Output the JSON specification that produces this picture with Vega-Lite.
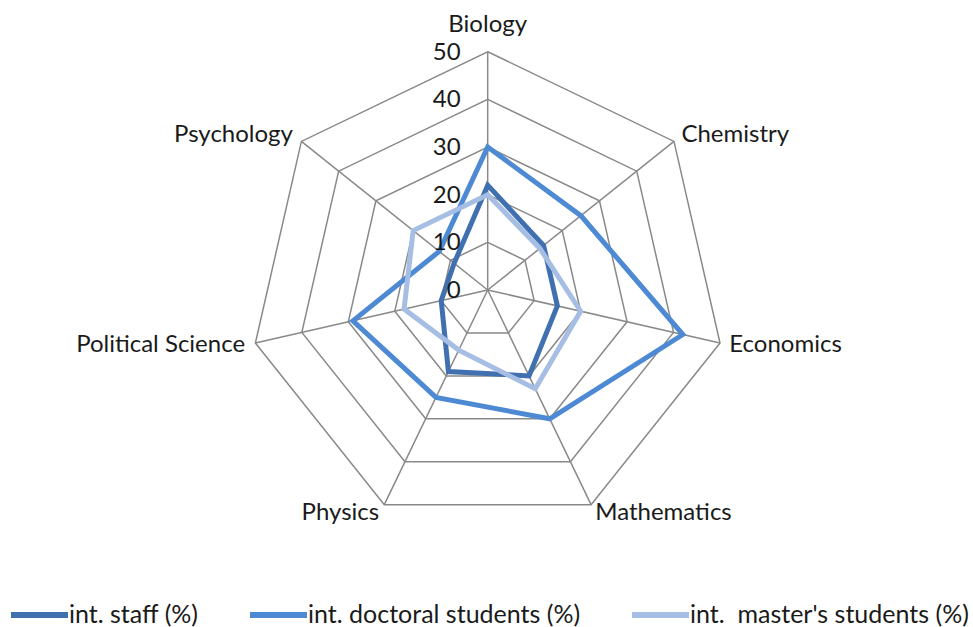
{
  "$schema": "https://vega.github.io/schema/vega-lite/v6.json",
  "width": 973,
  "height": 627,
  "autosize": {"type": "none"},
  "padding": 0,
  "background": "white",
  "config": {"view": {"stroke": null}, "font": "Lato", "text": {"font": "Lato"}},
  "datasets": {
    "scores": [
      {"category": "Biology", "series": "int. staff (%)", "value": 22},
      {"category": "Chemistry", "series": "int. staff (%)", "value": 15},
      {"category": "Economics", "series": "int. staff (%)", "value": 15},
      {"category": "Mathematics", "series": "int. staff (%)", "value": 20},
      {"category": "Physics", "series": "int. staff (%)", "value": 19},
      {"category": "Political Science", "series": "int. staff (%)", "value": 10},
      {"category": "Psychology", "series": "int. staff (%)", "value": 9},
      {"category": "Biology", "series": "int. doctoral students (%)", "value": 30},
      {"category": "Chemistry", "series": "int. doctoral students (%)", "value": 25},
      {"category": "Economics", "series": "int. doctoral students (%)", "value": 42},
      {"category": "Mathematics", "series": "int. doctoral students (%)", "value": 30},
      {"category": "Physics", "series": "int. doctoral students (%)", "value": 25},
      {"category": "Political Science", "series": "int. doctoral students (%)", "value": 29},
      {"category": "Psychology", "series": "int. doctoral students (%)", "value": 13},
      {"category": "Biology", "series": "int.\u00a0 master's students (%)", "value": 20},
      {"category": "Chemistry", "series": "int.\u00a0 master's students (%)", "value": 14},
      {"category": "Economics", "series": "int.\u00a0 master's students (%)", "value": 20},
      {"category": "Mathematics", "series": "int.\u00a0 master's students (%)", "value": 23},
      {"category": "Physics", "series": "int.\u00a0 master's students (%)", "value": 14},
      {"category": "Political Science", "series": "int.\u00a0 master's students (%)", "value": 18},
      {"category": "Psychology", "series": "int.\u00a0 master's students (%)", "value": 20}
    ],
    "grid": [
      {"category": "Biology", "level": [10, 20, 30, 40, 50]},
      {"category": "Chemistry", "level": [10, 20, 30, 40, 50]},
      {"category": "Economics", "level": [10, 20, 30, 40, 50]},
      {"category": "Mathematics", "level": [10, 20, 30, 40, 50]},
      {"category": "Physics", "level": [10, 20, 30, 40, 50]},
      {"category": "Political Science", "level": [10, 20, 30, 40, 50]},
      {"category": "Psychology", "level": [10, 20, 30, 40, 50]}
    ],
    "ticks": [{"tick": 0}, {"tick": 10}, {"tick": 20}, {"tick": 30}, {"tick": 40}, {"tick": 50}]
  },
  "layer": [
    {
      "data": {"name": "grid"},
      "transform": [
        {"flatten": ["level"]},
        {"calculate": "indexof(['Biology','Chemistry','Economics','Mathematics','Physics','Political Science','Psychology'], datum.category)", "as": "idx"},
        {"calculate": "datum.level*sin(datum.idx*2*PI/7)", "as": "px"},
        {"calculate": "datum.level*cos(datum.idx*2*PI/7)", "as": "py"}
      ],
      "mark": {"type": "line", "interpolate": "linear-closed", "stroke": "#898989", "strokeWidth": 1.5},
      "encoding": {
        "x": {"field": "px", "type": "quantitative", "scale": {"domain": [-102.33, 101.83], "nice": false, "zero": false}, "axis": null},
        "y": {"field": "py", "type": "quantitative", "scale": {"domain": [-70.71, 60.85], "nice": false, "zero": false}, "axis": null},
        "detail": {"field": "level"},
        "order": {"field": "idx"}
      }
    },
    {
      "data": {"name": "grid"},
      "transform": [
        {"flatten": ["level"]},
        {"filter": "datum.level == 50"},
        {"calculate": "indexof(['Biology','Chemistry','Economics','Mathematics','Physics','Political Science','Psychology'], datum.category)", "as": "idx"},
        {"calculate": "datum.level*sin(datum.idx*2*PI/7)", "as": "px"},
        {"calculate": "datum.level*cos(datum.idx*2*PI/7)", "as": "py"}
      ],
      "mark": {"type": "rule", "stroke": "#898989", "strokeWidth": 1.5},
      "encoding": {
        "x": {"field": "px", "type": "quantitative"},
        "y": {"field": "py", "type": "quantitative"},
        "x2": {"datum": 0},
        "y2": {"datum": 0}
      }
    },
    {
      "data": {"name": "scores"},
      "transform": [
        {"calculate": "indexof(['Biology','Chemistry','Economics','Mathematics','Physics','Political Science','Psychology'], datum.category)", "as": "idx"},
        {"calculate": "datum.value*sin(datum.idx*2*PI/7)", "as": "px"},
        {"calculate": "datum.value*cos(datum.idx*2*PI/7)", "as": "py"}
      ],
      "mark": {"type": "line", "interpolate": "linear-closed", "strokeWidth": 5, "strokeJoin": "miter"},
      "encoding": {
        "x": {"field": "px", "type": "quantitative"},
        "y": {"field": "py", "type": "quantitative"},
        "order": {"field": "idx"},
        "color": {
          "field": "series",
          "type": "nominal",
          "scale": {"domain": ["int. staff (%)", "int. doctoral students (%)", "int.\u00a0 master's students (%)"], "range": ["#4170B0", "#4E8AD4", "#A6BDE4"]},
          "legend": {
            "title": null,
            "orient": "none",
            "legendX": 8,
            "legendY": 600,
            "direction": "horizontal",
            "symbolType": "stroke",
            "symbolSize": 3249,
            "symbolStrokeWidth": 6,
            "labelFont": "Lato",
            "labelFontSize": 25,
            "labelColor": "#1a1a1a",
            "labelOffset": -2,
            "columnPadding": 48,
            "clipHeight": 30,
            "labelLimit": 400
          }
        }
      }
    },
    {
      "data": {"name": "ticks"},
      "mark": {"type": "text", "align": "right", "baseline": "middle", "dx": -27, "dy": 1, "fontSize": 24, "color": "#1a1a1a"},
      "encoding": {
        "x": {"datum": 0, "type": "quantitative"},
        "y": {"field": "tick", "type": "quantitative"},
        "text": {"field": "tick", "type": "quantitative"}
      }
    },
    {
      "data": {"name": "grid"},
      "transform": [
        {"filter": "datum.category == 'Biology'"},
        {"calculate": "52*sin(0)", "as": "px"},
        {"calculate": "52*cos(0)", "as": "py"}
      ],
      "mark": {"type": "text", "align": "center", "baseline": "alphabetic", "dy": -10, "fontSize": 24, "color": "#1a1a1a"},
      "encoding": {
        "x": {"field": "px", "type": "quantitative"},
        "y": {"field": "py", "type": "quantitative"},
        "text": {"field": "category"}
      }
    },
    {
      "data": {"name": "grid"},
      "transform": [
        {"calculate": "indexof(['Biology','Chemistry','Economics','Mathematics','Physics','Political Science','Psychology'], datum.category)", "as": "idx"},
        {"filter": "datum.idx >= 1 && datum.idx <= 3"},
        {"calculate": "52*sin(datum.idx*2*PI/7)", "as": "px"},
        {"calculate": "52*cos(datum.idx*2*PI/7)", "as": "py"}
      ],
      "mark": {"type": "text", "align": "left", "baseline": "middle", "dx": 0, "fontSize": 24, "color": "#1a1a1a"},
      "encoding": {
        "x": {"field": "px", "type": "quantitative"},
        "y": {"field": "py", "type": "quantitative"},
        "text": {"field": "category"}
      }
    },
    {
      "data": {"name": "grid"},
      "transform": [
        {"calculate": "indexof(['Biology','Chemistry','Economics','Mathematics','Physics','Political Science','Psychology'], datum.category)", "as": "idx"},
        {"filter": "datum.idx >= 4"},
        {"calculate": "52*sin(datum.idx*2*PI/7)", "as": "px"},
        {"calculate": "52*cos(datum.idx*2*PI/7)", "as": "py"}
      ],
      "mark": {"type": "text", "align": "right", "baseline": "middle", "dx": -1, "fontSize": 24, "color": "#1a1a1a"},
      "encoding": {
        "x": {"field": "px", "type": "quantitative"},
        "y": {"field": "py", "type": "quantitative"},
        "text": {"field": "category"}
      }
    }
  ]
}
